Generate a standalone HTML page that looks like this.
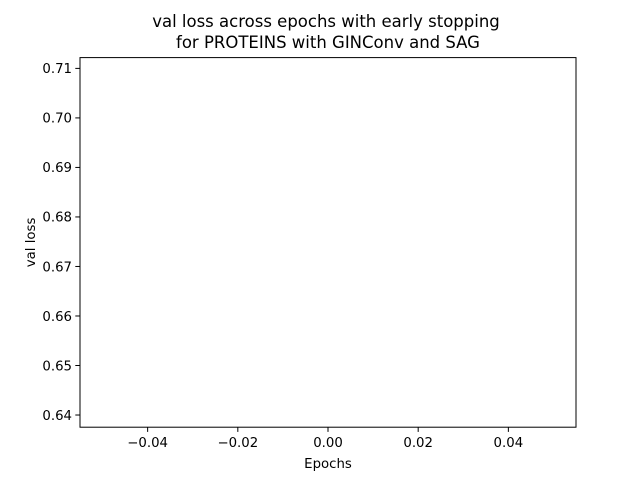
<!DOCTYPE html>
<html>
<head>
<meta charset="utf-8">
<style>
html,body{margin:0;padding:0;background:#fff;}
svg{display:block;font-family:"DejaVu Sans","Liberation Sans",sans-serif;}
</style>
</head>
<body>
<svg id="chart" width="640" height="480" viewBox="0 0 640 480" xmlns="http://www.w3.org/2000/svg">
  <rect x="0" y="0" width="640" height="480" fill="#fff"/>
  <text x="326" y="27" font-size="16.5" text-anchor="middle">val loss across epochs with early stopping</text>
  <text x="328" y="48" font-size="16.5" text-anchor="middle">for PROTEINS with GINConv and SAG</text>
  <g id="plot"></g>
  <rect x="80" y="57.6" width="496" height="369.6" fill="none" stroke="#000" stroke-width="1"/>
  <text x="328" y="468" font-size="13.3" text-anchor="middle">Epochs</text>
  <text transform="translate(35,242.4) rotate(-90)" font-size="13.3" text-anchor="middle">val loss</text>
</svg>
<script>
const epochs = [0];
const valLoss = [0.6749];
const xTicks = [-0.04, -0.02, 0.00, 0.02, 0.04];
const xTickLabels = ["\u22120.04", "\u22120.02", "0.00", "0.02", "0.04"];
const yTicks = [0.64, 0.65, 0.66, 0.67, 0.68, 0.69, 0.70, 0.71];
const yTickLabels = ["0.64", "0.65", "0.66", "0.67", "0.68", "0.69", "0.70", "0.71"];

const L = 80, R = 576, T = 57.6, B = 427.2;
const xMin = -0.055, xMax = 0.055;
const yMin = 0.63754, yMax = 0.71218;
const xs = v => L + (v - xMin) / (xMax - xMin) * (R - L);
const ys = v => B - (v - yMin) / (yMax - yMin) * (B - T);
const NS = "http://www.w3.org/2000/svg";
const svg = document.getElementById('chart');
const plot = document.getElementById('plot');

xTicks.forEach((t, i) => {
  const x = xs(t);
  const ln = document.createElementNS(NS, 'line');
  
  
  ln.setAttribute('x1', x); ln.setAttribute('x2', x);
  ln.setAttribute('y1', B); ln.setAttribute('y2', B + 4.7);
  ln.setAttribute('stroke', '#000'); ln.setAttribute('stroke-width', '1');
  svg.appendChild(ln);
  const tx = document.createElementNS(NS, 'text');
  
  
  tx.setAttribute('x', x); tx.setAttribute('y', B + 20);
  tx.setAttribute('font-size', '13.3'); tx.setAttribute('text-anchor', 'middle');
  tx.textContent = xTickLabels[i];
  svg.appendChild(tx);
});
yTicks.forEach((t, i) => {
  const y = ys(t);
  const ln = document.createElementNS(NS, 'line');
  
  
  ln.setAttribute('x1', L - 4.7); ln.setAttribute('x2', L);
  ln.setAttribute('y1', y); ln.setAttribute('y2', y);
  ln.setAttribute('stroke', '#000'); ln.setAttribute('stroke-width', '1');
  svg.appendChild(ln);
  const tx = document.createElementNS(NS, 'text');
  
  
  tx.setAttribute('x', L - 8); tx.setAttribute('y', y + 4.8);
  tx.setAttribute('font-size', '13.3'); tx.setAttribute('text-anchor', 'end');
  tx.textContent = yTickLabels[i];
  svg.appendChild(tx);
});
const d = epochs.map((e, i) => (i ? 'L' : 'M') + xs(e) + ',' + ys(valLoss[i])).join(' ');
const path = document.createElementNS(NS, 'path');


path.setAttribute('d', d);
path.setAttribute('fill', 'none');
path.setAttribute('stroke', '#1f77b4');
path.setAttribute('stroke-width', '1.5');
plot.appendChild(path);
</script>
</body>
</html>
